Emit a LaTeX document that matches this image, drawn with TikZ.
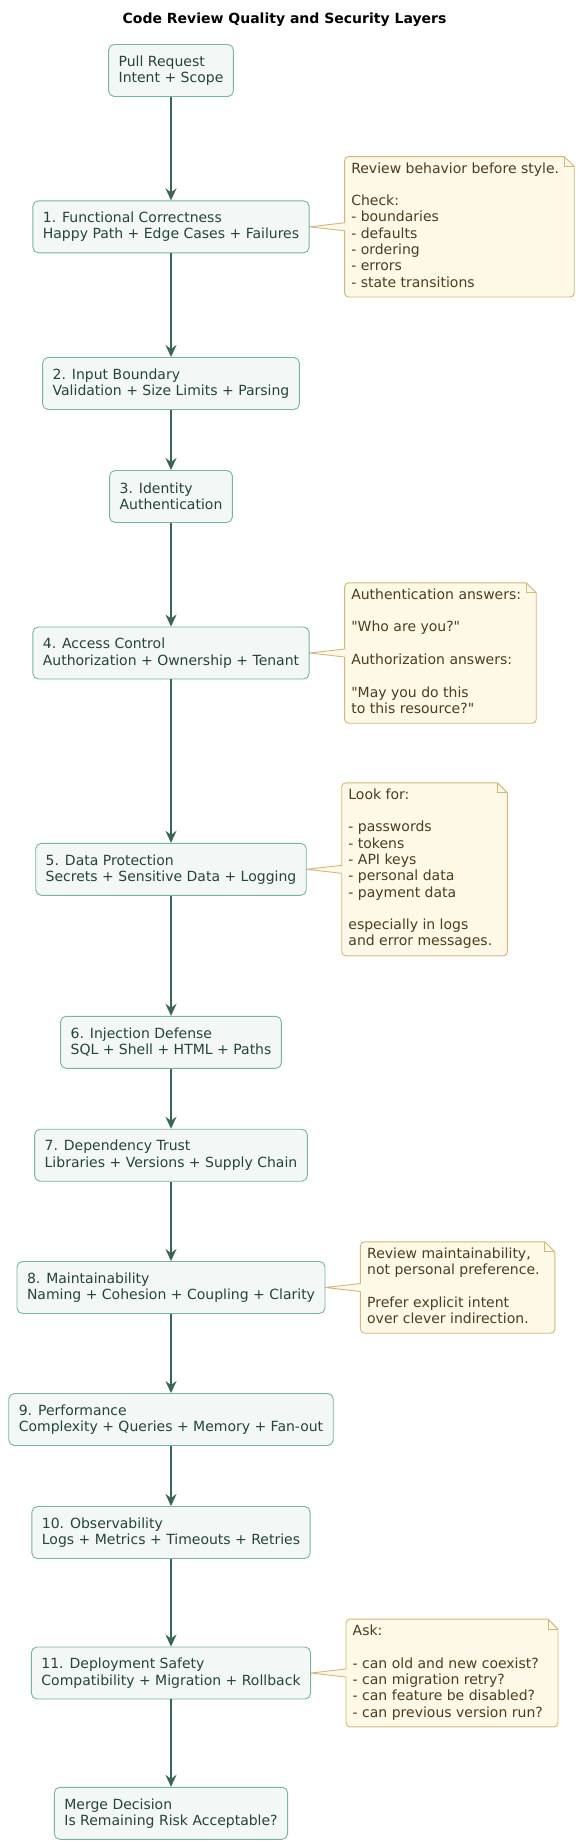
\documentclass[tikz,border=0pt]{standalone}
\usepackage{fontspec}
\setmainfont{DejaVu Sans}[Ligatures=TeXOff]
\usetikzlibrary{arrows.meta,calc}
\pgfdeclarelayer{background}
\pgfsetlayers{background,main}
\definecolor{boxfill}{HTML}{F3F8F6}
\definecolor{boxline}{HTML}{78B59C}
\definecolor{boxtext}{HTML}{24443A}
\definecolor{arrowcol}{HTML}{3A6656}
\definecolor{notefill}{HTML}{FEF8E6}
\definecolor{noteline}{HTML}{D2B77A}
\definecolor{notetext}{HTML}{4B3D20}
\newcommand\bodyfont{\fontsize{14pt}{16.3pt}\selectfont}
\newcommand\notetab[1]{\hspace*{6.5pt}\begin{tabular}{@{}l@{}}#1\end{tabular}\hspace*{15pt}}
\tikzset{
  stepbox/.style={draw=boxline, fill=boxfill, line width=0.9pt, rounded corners=5.5pt,
    align=left, inner xsep=10pt, inner ysep=0pt, minimum height=52pt, font=\bodyfont, text=boxtext},
  flow/.style={draw=arrowcol, line width=1.6pt, -{Stealth[length=12pt,width=11pt,inset=4pt]}},
  notebody/.style={inner sep=0pt, anchor=west, font=\bodyfont, text=notetext},
  notestroke/.style={draw=noteline, line width=0.9pt},
  titletext/.style={font=\bfseries\fontsize{14pt}{16pt}\selectfont, anchor=base, text=black}
}
\newcommand\drawnote[2]{%
  \begin{pgfonlayer}{background}
  \draw[notestroke, fill=notefill, rounded corners=4pt] (#1.north west) rectangle (#1.south east);
  \fill[white] ($(#1.north east)+(-10,0)$) -- ($(#1.north east)+(-10,2)$) -- ($(#1.north east)+(2,2)$)
     -- ($(#1.north east)+(2,-10)$) -- ($(#1.north east)+(0,-10)$) -- cycle;
  \draw[notestroke] ($(#1.north east)+(-10,0)$) -- ($(#1.north east)+(0,-10)$);
  \draw[notestroke] ($(#1.north east)+(-10,0)$) -- ($(#1.north east)+(-10,-10)$) -- ($(#1.north east)+(0,-10)$);
  \fill[notefill] (#2.east) -- ($(#1.west)+(1,4)$) -- ($(#1.west)+(1,-4)$) -- cycle;
  \draw[notestroke] ($(#1.west)+(0,4)$) -- (#2.east) -- ($(#1.west)+(0,-4)$);
  \end{pgfonlayer}}
\begin{document}
\begin{tikzpicture}[x=1pt,y=1pt]
\begin{pgfonlayer}{background}
\fill[white] (0,0) rectangle (579,-1844);
\end{pgfonlayer}
\useasboundingbox (0,0) rectangle (579,-1844);

\node[titletext] (title) at (284.5,-23.3) {Code Review Quality and Security Layers};

\node[stepbox] (pr) at (171,-70.5) {Pull Request\\Intent + Scope};
\node[stepbox] (b1) at (171,-226.8) {1. Functional Correctness\\Happy Path + Edge Cases + Failures};
\node[stepbox] (b2) at (171,-383.5) {2. Input Boundary\\Validation + Size Limits + Parsing};
\node[stepbox] (b3) at (171,-496.5) {3. Identity\\Authentication};
\node[stepbox] (b4) at (171,-653) {4. Access Control\\Authorization + Ownership + Tenant};
\node[stepbox] (b5) at (171,-869.3) {5. Data Protection\\Secrets + Sensitive Data + Logging};
\node[stepbox] (b6) at (171,-1042.3) {6. Injection Defense\\SQL + Shell + HTML + Paths};
\node[stepbox] (b7) at (171,-1155.2) {7. Dependency Trust\\Libraries + Versions + Supply Chain};
\node[stepbox] (b8) at (171,-1287.5) {8. Maintainability\\Naming + Cohesion + Coupling + Clarity};
\node[stepbox] (b9) at (171,-1419.5) {9. Performance\\Complexity + Queries + Memory + Fan-out};
\node[stepbox] (b10) at (171,-1532.5) {10. Observability\\Logs + Metrics + Timeouts + Retries};
\node[stepbox] (b11) at (171,-1673) {11. Deployment Safety\\Compatibility + Migration + Rollback};
\node[stepbox] (merge) at (171,-1813.3) {Merge Decision\\Is Remaining Risk Acceptable?};

\draw[flow] (pr.south) -- (b1.north);
\draw[flow] (b1.south) -- (b2.north);
\draw[flow] (b2.south) -- (b3.north);
\draw[flow] (b3.south) -- (b4.north);
\draw[flow] (b4.south) -- (b5.north);
\draw[flow] (b5.south) -- (b6.north);
\draw[flow] (b6.south) -- (b7.north);
\draw[flow] (b7.south) -- (b8.north);
\draw[flow] (b8.south) -- (b9.north);
\draw[flow] (b9.south) -- (b10.north);
\draw[flow] (b10.south) -- (b11.north);
\draw[flow] (b11.south) -- (merge.north);

\node[notebody, minimum height=140pt] (n1) at ([xshift=35pt]b1.east)
  {\notetab{Review behavior before style.\\ \\ Check:\\ - boundaries\\ - defaults\\ - ordering\\ - errors\\ - state transitions}};
\drawnote{n1}{b1}

\node[notebody, minimum height=140pt] (n2) at ([xshift=35pt]b4.east)
  {\notetab{Authentication answers:\\ \\ "Who are you?"\\ \\ Authorization answers:\\ \\ "May you do this\\ to this resource?"}};
\drawnote{n2}{b4}

\node[notebody, minimum height=172.6pt] (n3) at ([xshift=35pt]b5.east)
  {\notetab{Look for:\\ \\ - passwords\\ - tokens\\ - API keys\\ - personal data\\ - payment data\\ \\ especially in logs\\ and error messages.}};
\drawnote{n3}{b5}

\node[notebody, minimum height=91pt] (n4) at ([xshift=35pt]b8.east)
  {\notetab{Review maintainability,\\ not personal preference.\\ \\ Prefer explicit intent\\ over clever indirection.}};
\drawnote{n4}{b8}

\node[notebody, minimum height=107.4pt] (n5) at ([xshift=35pt]b11.east)
  {\notetab{Ask:\\ \\ - can old and new coexist?\\ - can migration retry?\\ - can feature be disabled?\\ - can previous version run?}};
\drawnote{n5}{b11}
\end{tikzpicture}
\end{document}
